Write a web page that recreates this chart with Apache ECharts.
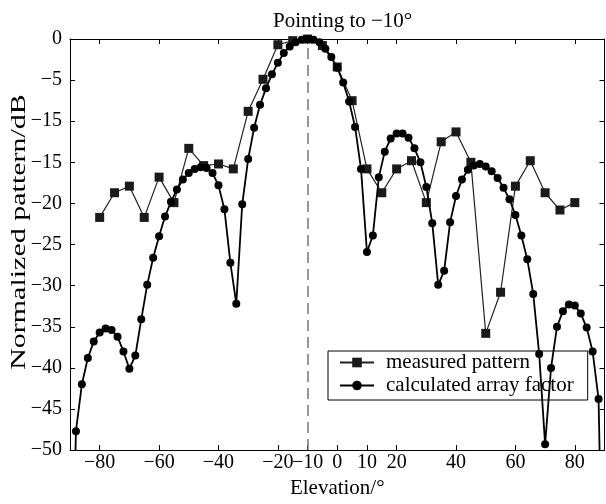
<!DOCTYPE html>
<html><head><meta charset="utf-8">
<script src="https://cdn.jsdelivr.net/npm/echarts@6/dist/echarts.min.js"></script>
<style>html,body{margin:0;padding:0;background:#fff}#c{width:606px;height:504px}</style>
</head><body><div id="c"></div>
<script>
const measAngles=[-80,-75,-70,-65,-60,-55,-50,-45,-40,-35,-30,-25,-20,-15,-10,-5,0,5,10,15,20,25,30,35,40,45,50,55,60,65,70,75,80];
const measValues=[-21.7,-18.7,-17.9,-21.7,-16.8,-19.9,-13.3,-15.4,-15.2,-15.8,-8.8,-4.9,-0.7,-0.2,0,-0.8,-3.4,-7.5,-15.8,-18.7,-15.8,-14.8,-19.9,-12.5,-11.3,-15.0,-35.8,-30.8,-17.9,-14.8,-18.7,-20.8,-19.9];
const calcAngles=[-90,-88,-86,-84,-82,-80,-78,-76,-74,-72,-70,-68,-66,-64,-62,-60,-58,-56,-54,-52,-50,-48,-46,-44,-42,-40,-38,-36,-34,-32,-30,-28,-26,-24,-22,-20,-18,-16,-14,-12,-10,-8,-6,-4,-2,0,2,4,6,8,10,12,14,16,18,20,22,24,26,28,30,32,34,36,38,40,42,44,46,48,50,52,54,56,58,60,62,64,66,68,70,72,74,76,78,80,82,84,86,88,90];
const calcValues=[-80,-47.7,-42.0,-38.8,-36.8,-35.7,-35.2,-35.4,-36.2,-38.0,-40.1,-38.5,-34.1,-29.9,-26.6,-24.0,-21.6,-19.8,-18.3,-17.1,-16.3,-15.8,-15.6,-15.7,-16.3,-17.8,-20.7,-27.2,-32.2,-20.1,-14.6,-10.8,-8.0,-6.0,-4.3,-2.9,-1.7,-0.9,-0.4,-0.1,0,-0.1,-0.4,-1.2,-2.2,-3.5,-5.3,-7.6,-10.7,-15.8,-25.9,-23.9,-16.8,-13.7,-12.1,-11.5,-11.5,-12.0,-13.3,-15.0,-18.0,-22.4,-29.9,-28.2,-22.3,-19.1,-17.1,-15.9,-15.4,-15.2,-15.5,-16.1,-16.9,-18.1,-19.5,-21.4,-23.9,-26.8,-31.0,-38.3,-49.3,-40.0,-35.0,-33.1,-32.3,-32.4,-33.4,-35.1,-38.0,-43.8,-80];
const xTickValues=[-80,-60,-40,-20,-10,0,10,20,40,60,80];
const xTickLabels=['\u221280','\u221260','\u221240','\u221220','\u221210','0','10','20','40','60','80'];
const yTickValues=[-50,-45,-40,-35,-30,-25,-20,-15,-10,-5,0];
const yTickLabels=['\u221250','\u221245','\u221240','\u221235','\u221230','\u221225','\u221220','\u221215','\u221215','\u22125','0'];
const pointingAngle=-10;

const FONT='"Liberation Serif","Times New Roman",serif';
const chart=echarts.init(document.getElementById('c'),null,{renderer:'canvas'});
const axisLine={show:true,onZero:false,lineStyle:{color:'#000',width:1}};
const xBase={type:'value',min:-90,max:90,splitLine:{show:false},axisLine:axisLine,
  axisTick:{show:true,inside:true,length:5,customValues:xTickValues,lineStyle:{color:'#000'}}};
const yBase={type:'value',min:-50,max:0,interval:5,splitLine:{show:false},axisLine:axisLine,
  axisTick:{show:true,inside:true,length:5,lineStyle:{color:'#000'}}};
chart.setOption({
  animation:false,
  backgroundColor:'#fff',
  title:{text:'Pointing to \u221210\u00b0',left:273,top:11,padding:0,
    textStyle:{fontFamily:FONT,fontSize:21,fontWeight:'normal',color:'#000'}},
  grid:{left:70,right:1.5,top:39,bottom:44},
  legend:{data:['measured pattern','calculated array factor'],orient:'vertical',left:328,top:351,
    padding:[1,14,4,11],itemWidth:34,itemHeight:12,itemGap:2,borderColor:'#000',borderWidth:1,
    borderRadius:0,backgroundColor:'#fff',
    textStyle:{fontFamily:FONT,fontSize:21,color:'#000',padding:[0,0,0,7]}},
  graphic:[{type:'text',x:20,y:232,rotation:Math.PI/2,scaleX:1.5,silent:true,
    style:{text:'Normalized pattern/dB',font:'20px '+FONT,fill:'#000',align:'center',verticalAlign:'middle'}}],
  xAxis:[
    Object.assign({},xBase,{position:'bottom',name:'Elevation/\u00b0',nameLocation:'middle',nameGap:25,
      nameTextStyle:{fontFamily:FONT,fontSize:21,color:'#000'},
      axisLabel:{show:true,customValues:xTickValues,margin:3,fontFamily:FONT,fontSize:20,color:'#000',
        formatter:v=>xTickLabels[xTickValues.indexOf(v)]}}),
    Object.assign({},xBase,{position:'top',axisLabel:{show:false}})
  ],
  yAxis:[
    Object.assign({},yBase,{position:'left',
      axisLabel:{show:true,margin:8,fontFamily:FONT,fontSize:20,color:'#000',
        formatter:v=>yTickLabels[yTickValues.indexOf(v)]}}),
    Object.assign({},yBase,{position:'right',axisLabel:{show:false}})
  ],
  series:[
    {name:'measured pattern',type:'line',xAxisIndex:0,yAxisIndex:0,
      data:measAngles.map((a,i)=>[a,measValues[i]]),
      symbol:'rect',symbolSize:9,itemStyle:{color:'#1a1a1a'},lineStyle:{color:'#222',width:1.2},z:3},
    {name:'calculated array factor',type:'line',xAxisIndex:0,yAxisIndex:0,
      data:calcAngles.map((a,i)=>[a,calcValues[i]]),
      symbol:'circle',symbolSize:8,itemStyle:{color:'#000'},lineStyle:{color:'#000',width:1.8},z:4,
      markLine:{silent:true,symbol:'none',label:{show:false},animation:false,
        lineStyle:{color:'#777',type:[11,6],width:1.5},data:[{xAxis:pointingAngle}],z:1}}
  ]
});
</script></body></html>
